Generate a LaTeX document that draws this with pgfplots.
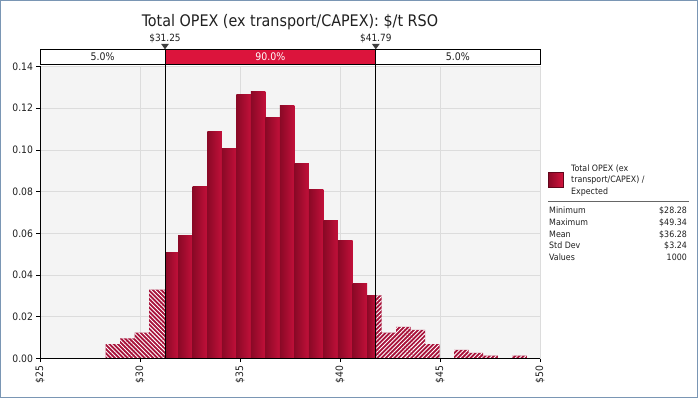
\documentclass[border=0pt]{standalone}
\usepackage{pgfplots}
\pgfplotsset{compat=1.18}
\usetikzlibrary{patterns.meta}
\usepackage{fontspec}
\setmainfont{DejaVu Sans Condensed}
\definecolor{frameblue}{HTML}{7A96B4}
\definecolor{bggray}{HTML}{F4F4F4}
\definecolor{gridgray}{HTML}{DCDCDC}
\definecolor{bardark}{HTML}{8A0926}
\definecolor{barlight}{HTML}{D3153E}
\definecolor{barright}{HTML}{C2103A}
\definecolor{hatchred}{HTML}{A8123A}
\definecolor{crimsonbox}{HTML}{DC143C}
\definecolor{trigray}{HTML}{404040}
\definecolor{txtgray}{HTML}{202020}
% one shaded bar of the central 90%: left edge, right edge, height
\newcommand{\sbar}[3]{\addplot[ybar interval, draw=none, left color=bardark, middle color=barlight, right color=barright] coordinates {(#1,#3) (#2,#3)};}
\begin{document}
\begin{tikzpicture}[x=1bp,y=1bp]
\useasboundingbox (0,0) rectangle (698,398);
\fill[white] (0,0) rectangle (698,398);
\begin{axis}[
  at={(40bp,39.5bp)}, anchor=south west,
  scale only axis, width=500bp, height=292bp,
  xmin=25, xmax=50, ymin=0, ymax=0.14,
  axis lines*=left,
  axis line style={black, line width=0.9bp},
  axis background/.style={fill=bggray},
  grid=major, grid style={gridgray, line width=0.8bp},
  xtick={25,30,35,40,45,50},
  xticklabels={\$25,\$30,\$35,\$40,\$45,\$50},
  ytick={0,0.02,0.04,0.06,0.08,0.10,0.12,0.14},
  yticklabels={0.00,0.02,0.04,0.06,0.08,0.10,0.12,0.14},
  tick align=outside, major tick length=3.5bp,
  tick style={black, line width=0.8bp},
  xticklabel style={rotate=90, anchor=east, font=\fontsize{10.3}{12}\selectfont, text=txtgray},
  yticklabel style={font=\fontsize{10.3}{12}\selectfont, text=txtgray},
  clip=false,
]
% left tail (below 5th percentile), hatched
\addplot[ybar interval, draw=none, fill=hatchred,
  postaction={pattern={Lines[angle=-45,distance=3bp,line width=0.9bp]},pattern color=white}]
  coordinates {(28.280,0.00689) (29.006,0.00964) (29.732,0.01239) (30.459,0.03305) (31.250,0.03305)};
% central 90%
\sbar{31.250}{31.911}{0.05095}
\sbar{31.911}{32.637}{0.05921}
\sbar{32.637}{33.363}{0.08262}
\sbar{33.363}{34.090}{0.10878}
\sbar{34.090}{34.816}{0.10052}
\sbar{34.816}{35.542}{0.12669}
\sbar{35.542}{36.268}{0.12806}
\sbar{36.268}{36.995}{0.11567}
\sbar{36.995}{37.721}{0.12118}
\sbar{37.721}{38.447}{0.09364}
\sbar{38.447}{39.173}{0.08124}
\sbar{39.173}{39.899}{0.06610}
\sbar{39.899}{40.626}{0.05646}
\sbar{40.626}{41.352}{0.03580}
\sbar{41.352}{41.790}{0.03029}
% right tail (above 95th percentile), hatched
\addplot[ybar interval, draw=none, fill=hatchred,
  postaction={pattern={Lines[angle=45,distance=3bp,line width=0.9bp]},pattern color=white}]
  coordinates {(41.790,0.03029) (42.078,0.01239) (42.804,0.01515) (43.530,0.01377)
  (44.257,0.00689) (44.983,0) (45.709,0.00413) (46.435,0.00275) (47.161,0.00138)
  (47.888,0) (48.614,0.00138) (49.340,0)};
% bottom axis line redrawn on top
\draw[black, line width=0.9bp] (axis cs:25,0) -- (axis cs:50,0);
% percentile band
\draw[black, line width=0.9bp, fill=white] (axis cs:25,0.14106) rectangle (axis cs:31.25,0.14825);
\draw[black, line width=0.9bp, fill=crimsonbox] (axis cs:31.25,0.14106) rectangle (axis cs:41.79,0.14825);
\draw[black, line width=0.9bp, fill=white] (axis cs:41.79,0.14106) rectangle (axis cs:50,0.14825);
\node[font=\fontsize{10.5}{12}\selectfont, text=txtgray] at (axis cs:28.125,0.144655) {5.0\%};
\node[font=\fontsize{10.5}{12}\selectfont, text=white] at (axis cs:36.52,0.144655) {90.0\%};
\node[font=\fontsize{10.5}{12}\selectfont, text=txtgray] at (axis cs:45.895,0.144655) {5.0\%};
\draw[black, line width=0.9bp] (axis cs:31.25,0) -- (axis cs:31.25,0.14825);
\draw[black, line width=0.9bp] (axis cs:41.79,0) -- (axis cs:41.79,0.14825);
\fill[trigray] (axis cs:31.05,0.15090) -- (axis cs:31.45,0.15090) -- (axis cs:31.25,0.14825) -- cycle;
\fill[trigray] (axis cs:41.59,0.15090) -- (axis cs:41.99,0.15090) -- (axis cs:41.79,0.14825) -- cycle;
\node[font=\fontsize{10}{12}\selectfont, text=txtgray] at (axis cs:31.25,0.15366) {\$31.25};
\node[font=\fontsize{10}{12}\selectfont, text=txtgray] at (axis cs:41.79,0.15366) {\$41.79};
\end{axis}
% title
\node[anchor=base, font=\fontsize{16}{19}\selectfont, text=txtgray] at (290,372) {Total OPEX (ex transport/CAPEX): \$/t RSO};
% legend
\draw[draw=bardark!70!black, line width=0.5bp, left color=bardark, right color=barlight] (548,211) rectangle (563.3,226);
\begin{scope}[every node/.style={font=\fontsize{8.8}{10.5}\selectfont, text=txtgray, inner sep=0pt}]
\node[anchor=base west] at (571,226.4) {Total OPEX (ex};
\node[anchor=base west] at (571,215.4) {transport/CAPEX) /};
\node[anchor=base west] at (571,204.0) {Expected};
\draw[gray!80!black, line width=0.8bp] (548,196.3) -- (689,196.3);
\node[anchor=base west] at (549,184.2) {Minimum};
\node[anchor=base east] at (687,184.2) {\$28.28};
\node[anchor=base west] at (549,172.5) {Maximum};
\node[anchor=base east] at (687,172.5) {\$49.34};
\node[anchor=base west] at (549,160.8) {Mean};
\node[anchor=base east] at (687,160.8) {\$36.28};
\node[anchor=base west] at (549,149.1) {Std Dev};
\node[anchor=base east] at (687,149.1) {\$3.24};
\node[anchor=base west] at (549,137.4) {Values};
\node[anchor=base east] at (687,137.4) {1000};
\end{scope}
\draw[frameblue, line width=1bp] (0.5,0.5) rectangle (697.5,397.5);
\end{tikzpicture}
\end{document}
